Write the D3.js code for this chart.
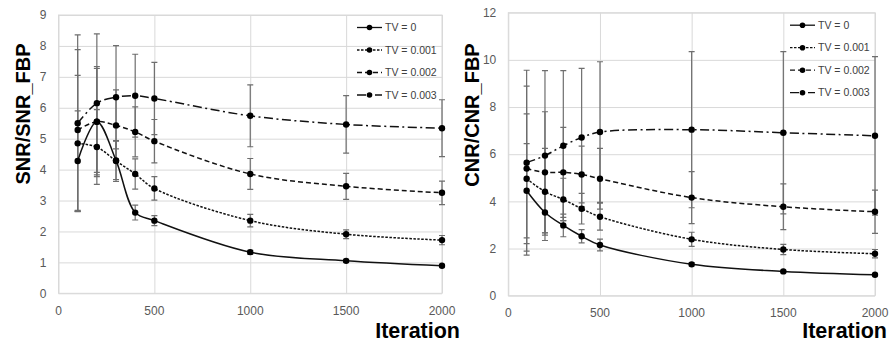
<!DOCTYPE html>
<html>
<head>
<meta charset="utf-8">
<script src="https://cdn.jsdelivr.net/npm/d3@7"></script>
<style>
  body { margin: 0; background: #fff; }
  svg { display: block; font-family: "Liberation Sans", Arial, sans-serif; }
  .grid line, .grid path { stroke: #d9d9d9; stroke-width: 1; }
  .tick-label { fill: #595959; font-size: 12px; }
  .legend text { fill: #404040; font-size: 10.5px; }
  .axis-title { fill: #000; font-weight: bold; }
  .errbar { stroke: #6e6e6e; stroke-width: 1.2; fill: none; }
  .dataline { fill: none; stroke: #111; stroke-width: 1.5; }
</style>
</head>
<body>
<div id="chart"></div>
<script>
const iterations = [100, 200, 300, 400, 500, 1000, 1500, 2000];
const seriesNames = ['TV = 0', 'TV = 0.001', 'TV = 0.002', 'TV = 0.003'];
const xTicks = [0, 500, 1000, 1500, 2000];

// SNR / SNR_FBP (left)
const snrTV0 = [4.28, 5.55, 4.30, 2.61, 2.35, 1.33, 1.05, 0.89];
const snrTV001 = [4.85, 4.73, 4.28, 3.86, 3.39, 2.35, 1.91, 1.72];
const snrTV002 = [5.28, 5.55, 5.43, 5.22, 4.92, 3.86, 3.46, 3.25];
const snrTV003 = [5.50, 6.15, 6.34, 6.39, 6.30, 5.74, 5.46, 5.34];
const snrErrTV0 = [1.62, 1.78, 0.62, 0.24, 0.16, 0.06, 0.05, 0.04];
const snrErrTV001 = [2.20, 1.21, 0.66, 0.49, 0.38, 0.20, 0.14, 0.15];
const snrErrTV002 = [2.60, 1.72, 1.15, 0.81, 0.70, 0.50, 0.42, 0.38];
const snrErrTV003 = [2.86, 2.24, 1.67, 1.34, 1.17, 1.00, 0.93, 0.92];
const snrTicks = [0, 1, 2, 3, 4, 5, 6, 7, 8, 9];

// CNR / CNR_FBP (right)
const cnrTV0 = [4.45, 3.53, 2.98, 2.52, 2.15, 1.33, 1.03, 0.89];
const cnrTV001 = [4.96, 4.41, 4.08, 3.69, 3.35, 2.39, 1.96, 1.78];
const cnrTV002 = [5.39, 5.23, 5.23, 5.14, 4.96, 4.16, 3.77, 3.56];
const cnrTV003 = [5.64, 5.94, 6.36, 6.71, 6.94, 7.04, 6.91, 6.78];
const cnrErrTV0 = [2.00, 0.86, 0.48, 0.28, 0.25, 0.07, 0.05, 0.05];
const cnrErrTV001 = [2.75, 1.84, 0.90, 0.65, 0.57, 0.30, 0.22, 0.18];
const cnrErrTV002 = [3.50, 2.57, 1.91, 1.20, 1.29, 1.10, 0.97, 0.92];
const cnrErrTV003 = [3.92, 3.60, 3.18, 2.93, 2.98, 3.31, 3.44, 3.36];
const cnrTicks = [0, 2, 4, 6, 8, 10, 12];

const dashes = [null, '2.5,1.5', '5,3', '9,3.5,2,3.5'];

const width = 891;
const height = 343;

const svg = d3.select('#chart')
  .append('svg')
  .attr('width', width)
  .attr('height', height);

function makeSeries(means, errs) {
  return means.map((m, i) => ({
    name: seriesNames[i],
    dash: dashes[i],
    values: iterations.map((it, j) => ({x: it, y: m[j], e: errs[i][j]}))
  }));
}

function drawPanel(p) {
  const x = d3.scaleLinear().domain([0, 2000]).range([p.left, p.right]);
  const y = d3.scaleLinear().domain([0, p.yMax]).range([p.bottom, p.top]);
  const g = svg.append('g');

  // grid
  g.append('g')
   .attr('class', 'grid')
   .attr('transform', `translate(0, ${p.bottom})`)
   .call(d3.axisBottom(x).tickValues(xTicks).tickSize(-(p.bottom - p.top)).tickFormat(''))
   .call((a) => a.select('.domain').remove());
  g.append('g')
   .attr('class', 'grid')
   .attr('transform', `translate(${p.left}, 0)`)
   .call(d3.axisLeft(y).tickValues(p.yTicks).tickSize(-(p.right - p.left)).tickFormat(''))
   .call((a) => a.select('.domain').remove());
  g.append('rect')
   .attr('x', p.left).attr('y', p.top)
   .attr('width', p.right - p.left).attr('height', p.bottom - p.top)
   .attr('fill', 'none').attr('stroke', '#d9d9d9');

  // tick labels
  g.selectAll('.ylab')
   .data(p.yTicks)
   .enter()
   .append('text')
   .attr('class', 'tick-label')
   .attr('x', p.left - 12)
   .attr('y', (d) => y(d))
   .attr('dy', '0.35em')
   .attr('text-anchor', 'end')
   .text((d) => d);
  g.selectAll('.xlab')
   .data(xTicks)
   .enter()
   .append('text')
   .attr('class', 'tick-label')
   .attr('x', (d) => x(d))
   .attr('y', p.bottom + 21.5)
   .attr('text-anchor', 'middle')
   .text((d) => d);

  const series = p.series;

  // error bars
  const eb = g.append('g').attr('class', 'errbar');
  series.forEach((s) => {
    s.values.forEach((v) => {
      const yt = y(v.y + v.e);
      const yb = y(Math.max(0, v.y - v.e));
      eb.append('path')
        .attr('d', `M${x(v.x)},${yt}V${yb}M${x(v.x) - 3},${yt}H${x(v.x) + 3}M${x(v.x) - 3},${yb}H${x(v.x) + 3}`);
    });
  });

  // lines
  const line = d3.line()
    .x((d) => x(d.x))
    .y((d) => y(d.y))
    .curve(d3.curveCatmullRom.alpha(0.5));
  g.selectAll('.dataline')
   .data(series)
   .enter()
   .append('path')
   .attr('class', 'dataline')
   .attr('d', (d) => line(d.values))
   .attr('stroke-dasharray', (d) => d.dash);

  // markers
  series.forEach((s) => {
    g.selectAll(null)
     .data(s.values)
     .enter()
     .append('circle')
     .attr('cx', (d) => x(d.x))
     .attr('cy', (d) => y(d.y))
     .attr('r', 3.2)
     .attr('fill', '#000');
  });

  // legend
  const leg = g.append('g').attr('class', 'legend');
  series.forEach((s, i) => {
    const ly = p.top + 12.5 + 22.5 * i;
    const lx = p.right - 85;
    leg.append('line')
       .attr('x1', lx).attr('x2', lx + 25)
       .attr('y1', ly).attr('y2', ly)
       .attr('stroke', '#111').attr('stroke-width', 1.3)
       .attr('stroke-dasharray', s.dash);
    leg.append('circle')
       .attr('cx', lx + 12.5).attr('cy', ly).attr('r', 2.8).attr('fill', '#000');
    leg.append('text')
       .attr('x', lx + 28).attr('y', ly).attr('dy', '0.35em')
       .text(s.name);
  });

  // axis titles
  g.append('text')
   .attr('class', 'axis-title')
   .attr('transform', `translate(${p.yTitleX}, ${p.yTitleY}) rotate(-90)`)
   .attr('text-anchor', 'middle')
   .attr('dy', '0.35em')
   .style('font-size', '20px')
   .text(p.yTitle);
  g.append('text')
   .attr('class', 'axis-title')
   .attr('x', p.xTitleX)
   .attr('y', 338)
   .attr('text-anchor', 'end')
   .style('font-size', '21.5px')
   .text('Iteration');
}

drawPanel({
  left: 58.5, right: 442, top: 15, bottom: 293.3,
  yMax: 9, yTicks: snrTicks,
  series: makeSeries([snrTV0, snrTV001, snrTV002, snrTV003],
                     [snrErrTV0, snrErrTV001, snrErrTV002, snrErrTV003]),
  yTitle: 'SNR/SNR_FBP', yTitleX: 23, yTitleY: 114,
  xTitleX: 460
});

drawPanel({
  left: 508.3, right: 875, top: 12.7, bottom: 295.7,
  yMax: 12, yTicks: cnrTicks,
  series: makeSeries([cnrTV0, cnrTV001, cnrTV002, cnrTV003],
                     [cnrErrTV0, cnrErrTV001, cnrErrTV002, cnrErrTV003]),
  yTitle: 'CNR/CNR_FBP', yTitleX: 472, yTitleY: 115,
  xTitleX: 887
});
</script>
</body>
</html>
